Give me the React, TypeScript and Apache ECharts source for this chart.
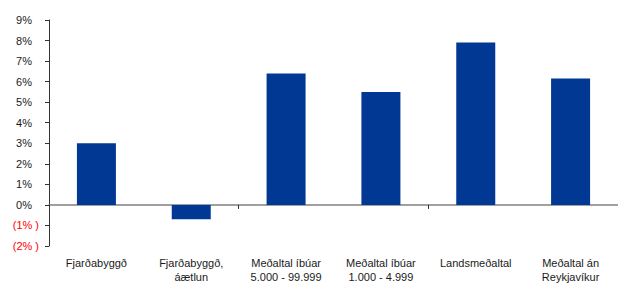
import React, { useEffect, useRef } from "react";
import * as echarts from "echarts";

const categories = [
  "Fjarðabyggð",
  "Fjarðabyggð,\náætlun",
  "Meðaltal íbúar\n5.000 - 99.999",
  "Meðaltal íbúar\n1.000 - 4.999",
  "Landsmeðaltal",
  "Meðaltal án\nReykjavíkur",
];
const values = [3.0, -0.7, 6.4, 5.5, 7.9, 6.15];
const yMin = -2;
const yMax = 9;
const yStep = 1;

const FONT = "'Liberation Sans', Arial, sans-serif";

export default function App() {
  const ref = useRef<HTMLDivElement>(null);
  useEffect(() => {
    if (!ref.current) return;
    const chart = echarts.init(ref.current, undefined, { renderer: "svg" });
    chart.setOption({
      animation: false,
      backgroundColor: "#ffffff",
      grid: { left: 49, top: 20, width: 573.6, height: 226.6, containLabel: false },
      xAxis: [
        {
          type: "category",
          data: categories,
          position: "bottom",
          axisLine: { show: true, onZero: true, lineStyle: { color: "#808080", width: 1.5 } },
          axisTick: { show: true, length: 4, lineStyle: { color: "#333" } },
          axisLabel: { show: false },
          splitLine: { show: false },
        },
        {
          type: "category",
          data: categories,
          position: "bottom",
          axisLine: { show: false, onZero: false },
          axisTick: { show: false },
          axisLabel: {
            show: true,
            margin: 10,
            color: "#1a1a1a",
            fontSize: 11,
            fontFamily: FONT,
            lineHeight: 14,
            interval: 0,
          },
          splitLine: { show: false },
        },
      ],
      yAxis: {
        type: "value",
        min: yMin,
        max: yMax,
        interval: yStep,
        axisLine: { show: true, lineStyle: { color: "#333", width: 1 } },
        axisTick: { show: true, length: 4, lineStyle: { color: "#333" } },
        splitLine: { show: false },
        axisLabel: {
          margin: 10,
          fontSize: 11,
          fontFamily: FONT,
          formatter: (v: number) => {
            const r = Math.round(v);
            return r < 0 ? `{n|(${-r}% )}` : `{p|${r}%}`;
          },
          rich: {
            p: { color: "#1a1a1a", fontSize: 11, fontFamily: FONT, padding: [0, 7, 0, 0] },
            n: { color: "#ff0000", fontSize: 11, fontFamily: FONT },
          },
        },
      },
      series: [
        {
          type: "bar",
          xAxisIndex: 0,
          data: values,
          barWidth: 39,
          itemStyle: { color: "#003893" },
        },
      ],
    });
    return () => chart.dispose();
  }, []);
  return (
    <div
      ref={ref}
      style={{ position: "absolute", left: 0, top: 0, width: 618, height: 284 }}
    />
  );
}
